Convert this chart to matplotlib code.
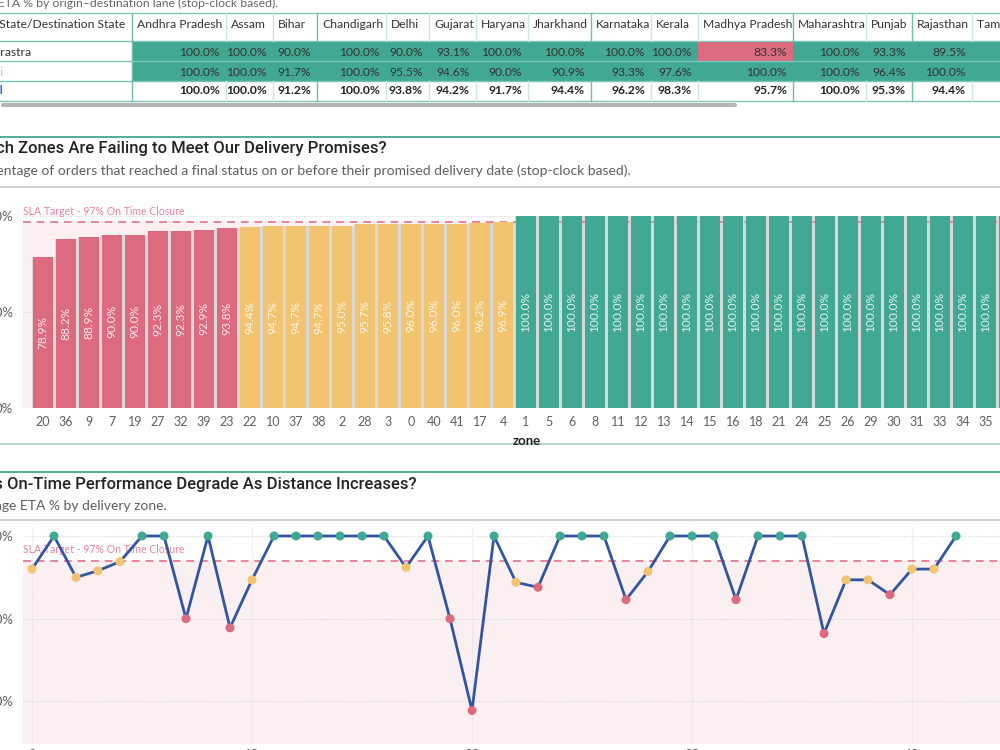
import matplotlib
matplotlib.use("Agg")
import matplotlib.pyplot as plt
from matplotlib.patches import Rectangle, FancyBboxPatch

plt.rcParams['font.family'] = ['Lato', 'DejaVu Sans']

# ---------------- data ----------------
table_states = ["Andhra Pradesh", "Assam", "Bihar", "Chandigarh", "Delhi", "Gujarat",
                "Haryana", "Jharkhand", "Karnataka", "Kerala", "Madhya Pradesh",
                "Maharashtra", "Punjab", "Rajasthan", "Tamil Nadu"]
table_rows = ["Maharastra", "Delhi", "Total"]
row_maharastra = [100.0, 100.0, 90.0, 100.0, 90.0, 93.1, 100.0, 100.0, 100.0, 100.0, 83.3, 100.0, 93.3, 89.5, None]
row_second = [100.0, 100.0, 91.7, 100.0, 95.5, 94.6, 90.0, 90.9, 93.3, 97.6, 100.0, 100.0, 96.4, 100.0, None]
row_total = [100.0, 100.0, 91.2, 100.0, 93.8, 94.2, 91.7, 94.4, 96.2, 98.3, 95.7, 100.0, 95.3, 94.4, None]

bar_zones = [20, 36, 9, 7, 19, 27, 32, 39, 23, 22, 10, 37, 38, 2, 28, 3, 0, 40, 41, 17, 4,
             1, 5, 6, 8, 11, 12, 13, 14, 15, 16, 18, 21, 24, 25, 26, 29, 30, 31, 33, 34, 35, 42]
bar_values = [78.9, 88.2, 88.9, 90.0, 90.0, 92.3, 92.3, 92.9, 93.8, 94.4, 94.7, 94.7, 94.7, 95.0,
              95.7, 95.8, 96.0, 96.0, 96.0, 96.2, 96.9,
              100.0, 100.0, 100.0, 100.0, 100.0, 100.0, 100.0, 100.0, 100.0, 100.0, 100.0,
              100.0, 100.0, 100.0, 100.0, 100.0, 100.0, 100.0, 100.0, 100.0, 100.0, 100.0]
sla_target = 97.0

RED = '#DD6B7F'
YEL = '#F2C46F'
GRN = '#41A893'
BLUE = '#2F55A4'
PINK_BG = '#FBEFF1'
PINK_LINE = '#E8849A'
TEAL = '#41A893'


def status_color(v):
    if v >= sla_target:
        return GRN
    if v >= 94.0:
        return YEL
    return RED


fig = plt.figure(figsize=(10, 7.5), dpi=100)

# canvas in pixel coordinates
cv = fig.add_axes([0, 0, 1, 1])
cv.set_xlim(0, 1000)
cv.set_ylim(750, 0)
cv.axis('off')

# ---------------- table ----------------
cv.text(278, 3, "Average ETA % by origin\u2013destination lane (stop-clock based).",
        ha='right', va='center', fontsize=8.8, color='#666666')

col_edges = [0, 132, 226, 273, 317, 386, 429, 476, 528, 591, 651, 698, 793, 866, 912, 972, 1060]
row_y = [13, 41, 61, 81, 101]
major_cols = {132, 317, 591, 793, 912}
TFS = 8.7

# data cell fills
rows_vals = [row_maharastra, row_second]
for r, vals in enumerate(rows_vals):
    for c, v in enumerate(vals):
        x0, x1 = col_edges[c + 1], col_edges[c + 2]
        col = GRN
        if v is not None and v < 85:
            col = RED
        cv.add_patch(Rectangle((x0, row_y[r + 1]), x1 - x0, row_y[r + 2] - row_y[r + 1],
                               facecolor=col, edgecolor='none', zorder=1))

# horizontal lines
for y in row_y:
    cv.plot([0, 1000], [y, y], color='#7CC4B3', lw=1.0, zorder=2)
# vertical separators
for x in col_edges[1:-1]:
    c = '#6FBDAC' if x in major_cols else '#CBE7E0'
    cv.plot([x, x], [13, 41], color=c, lw=1.0, zorder=2)
    cv.plot([x, x], [81, 101], color=c, lw=1.0, zorder=2)
cv.plot([132, 132], [41, 81], color='#6FBDAC', lw=1.0, zorder=2)

# header texts
cv.text(125, 25, "Origin State/Destination State", ha='right', va='center', fontsize=TFS, color='#333333', zorder=3)
for c, s in enumerate(table_states):
    cv.text(col_edges[c + 1] + 5, 25, s, ha='left', va='center', fontsize=TFS, color='#333333', zorder=3)

# row labels
cv.text(32, 52, table_rows[0], ha='right', va='center', fontsize=TFS, color='#333333', zorder=3)
cv.text(4, 72, table_rows[1], ha='right', va='center', fontsize=TFS, color='#7FDCEA', zorder=3)
cv.text(4, 91, table_rows[2], ha='right', va='center', fontsize=TFS, color='#1F6FD0', zorder=3, fontweight='bold')

all_rows = [row_maharastra, row_second, row_total]
row_centers = [52, 72, 91]
for r, vals in enumerate(all_rows):
    yc = row_centers[r]
    for c, v in enumerate(vals):
        if v is None:
            continue
        xr = col_edges[c + 2] - 6
        cv.text(xr, yc, f"{v:.1f}%", ha='right', va='center', fontsize=TFS,
                color='#222222' if r == 2 else '#333333',
                fontweight='bold' if r == 2 else 'normal', zorder=3)

# scrollbar
cv.add_patch(FancyBboxPatch((1, 103), 736, 4, boxstyle="round,pad=0,rounding_size=2",
                            facecolor='#B5B5B5', edgecolor='none', zorder=2))

# ---------------- section headers ----------------
cv.plot([0, 1000], [137, 137], color=TEAL, lw=1.3)
cv.text(387, 149, "Which Zones Are Failing to Meet Our Delivery Promises?", ha='right', va='center',
        fontsize=12, color='#252423', family=['Roboto', 'DejaVu Sans'], fontweight='medium')
cv.text(631, 171, "Percentage of orders that reached a final status on or before their promised delivery date (stop-clock based).",
        ha='right', va='center', fontsize=10, color='#605E5C')
cv.plot([0, 1000], [187, 187], color='#C8C8C8', lw=1.2)

cv.plot([0, 1000], [444, 444], color='#A6D8CC', lw=1.3)
cv.plot([0, 1000], [472, 472], color=TEAL, lw=1.3)
cv.text(417, 484, "Does On-Time Performance Degrade As Distance Increases?", ha='right', va='center',
        fontsize=12, color='#252423', family=['Roboto', 'DejaVu Sans'], fontweight='medium')
cv.text(167, 506, "Average ETA % by delivery zone.", ha='right', va='center', fontsize=10, color='#605E5C')
cv.plot([0, 1000], [520, 520], color='#C8C8C8', lw=1.2)

# ---------------- bar chart ----------------
W, H = 1000.0, 750.0
axb = fig.add_axes([23 / W, 1 - 408 / H, 987 / W, 192 / H])
axb.set_facecolor('none')
n = len(bar_zones)
xs = list(range(n))
axb.set_xlim(-20 / 23, (1010 - 43) / 23)
axb.set_ylim(0, 100)
axb.axhspan(0, sla_target, color=PINK_BG, zorder=0, lw=0)
for y in (50, 100):
    axb.axhline(y, color='#D5D5D5', lw=0.8, ls=(0, (1, 1.5)), zorder=0.5)
axb.bar(xs, bar_values, width=1.0, color='#D9D9D9', zorder=1, lw=0)
axb.bar(xs, bar_values, width=0.87, color=[status_color(v) for v in bar_values], zorder=2, lw=0)
axb.axhline(sla_target, color=PINK_LINE, lw=1.4, ls=(0, (4, 3)), zorder=1.5)
axb.text(0.0, 0.995, "SLA Target - 97% On Time Closure", transform=axb.transAxes,
         ha='left', va='bottom', fontsize=7.6, color=PINK_LINE, zorder=3)
for x, v in zip(xs, bar_values):
    axb.text(x, v / 2, f"{v:.1f}%", rotation=90, ha='center', va='center', fontsize=8.6,
             color='white', alpha=0.85, zorder=3)
axb.set_xticks(xs)
axb.set_xticklabels([str(z) for z in bar_zones], fontsize=9, color='#605E5C')
axb.set_yticks([0, 50, 100])
axb.set_yticklabels(["0%", "50%", "100%"], fontsize=9.5, color='#605E5C')
axb.tick_params(length=0, pad=6)
axb.tick_params(axis='y', pad=7)
for s in axb.spines.values():
    s.set_visible(False)
axb.set_xlabel("zone", fontsize=9.5, fontweight='bold', color='#252423', labelpad=3)
axb.xaxis.set_label_coords((527 - 23) / 987, -(435 - 408) / 192)

# ---------------- line chart ----------------
pairs = sorted(zip(bar_zones, bar_values))
line_zones = [p[0] for p in pairs]
line_values = [p[1] for p in pairs]

px_per = 8.27
axl = fig.add_axes([23 / W, 1 - 744 / H, 987 / W, 217 / H])
axl.set_facecolor('none')
axl.set_xlim(-9 / 22, (1010 - 32) / 22)
axl.set_ylim(100 - 208 / px_per, 100 + 9 / px_per)
axl.axhspan(70, sla_target, color=PINK_BG, zorder=0, lw=0)
for y in (80, 90, 100):
    axl.axhline(y, color='#D5D5D5', lw=0.8, ls=(0, (1, 1.5)), zorder=0.5)
for x in (0, 10, 20, 30, 40):
    axl.axvline(x, color='#DDDDDD', lw=0.8, ls=(0, (1, 1.5)), zorder=0.5)
axl.axhline(sla_target, color=PINK_LINE, lw=1.4, ls=(0, (4, 3)), zorder=1)
axl.text(0.0, sla_target + 0.7, "SLA Target - 97% On Time Closure", transform=axl.get_yaxis_transform(),
         ha='left', va='bottom', fontsize=7.6, color=PINK_LINE, zorder=1)
axl.plot(line_zones, line_values, color=BLUE, lw=2.0, zorder=2)
axl.scatter(line_zones, line_values, s=42, c=[status_color(v) for v in line_values], zorder=3, lw=0)
axl.set_xticks([0, 10, 20, 30, 40])
axl.set_xticklabels(["0", "10", "20", "30", "40"], fontsize=9.5, color='#605E5C')
axl.set_yticks([80, 90, 100])
axl.set_yticklabels(["80%", "90%", "100%"], fontsize=9.5, color='#605E5C')
axl.tick_params(length=0)
axl.tick_params(axis='y', pad=7)
axl.tick_params(axis='x', pad=3.5)
for s in axl.spines.values():
    s.set_visible(False)

fig.savefig("out.png", dpi=100)
